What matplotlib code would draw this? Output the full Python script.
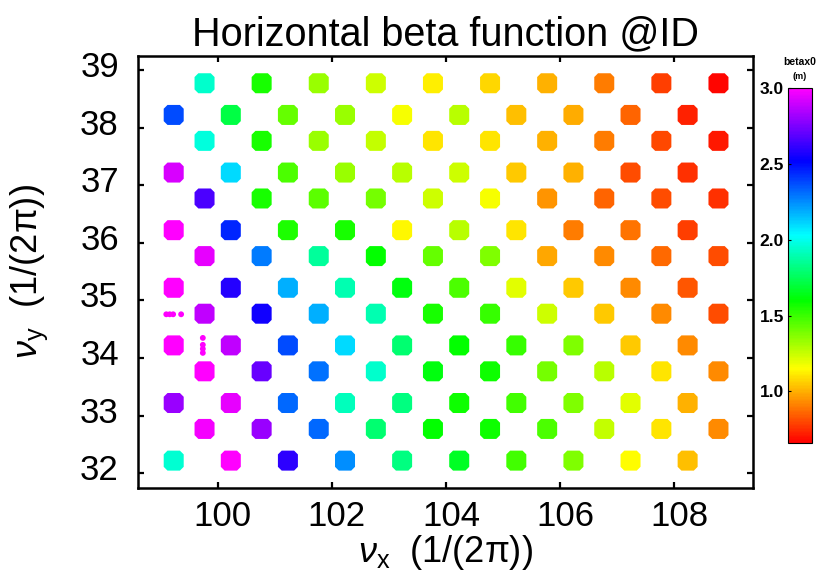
import numpy as np
import matplotlib
matplotlib.use("Agg")
import matplotlib.pyplot as plt
from matplotlib.path import Path
from matplotlib.colors import LinearSegmentedColormap
from matplotlib.transforms import ScaledTranslation

# ---------------- data ----------------
# grid tunes: "A" rows (nuy = m+0.22) use nux = n+0.23 ; "B" rows (nuy = m+0.77) use nux = n+0.77
nux_a = [99.23, 100.23, 101.23, 102.23, 103.23, 104.23, 105.23, 106.23, 107.23, 108.23]
nux_b = [99.77, 100.77, 101.77, 102.77, 103.77, 104.77, 105.77, 106.77, 107.77, 108.77]
nuy_rows = [38.77, 38.22, 37.77, 37.22, 36.77, 36.22, 35.77,
            35.22, 34.77, 34.22, 33.77, 33.22, 32.77, 32.22]
row_kind = ["b", "a", "b", "a", "b", "a", "b", "a", "b", "a", "b", "a", "b", "a"]

# horizontal beta function at ID (m), one row per nuy value (top to bottom)
betax = [
    [1.94, 1.56, 1.33, 1.24, 1.12, 1.08, 1.00, 0.90, 0.78, 0.67],
    [2.37, 1.72, 1.42, 1.33, 1.17, 1.28, 1.03, 0.99, 0.86, 0.73],
    [1.97, 1.56, 1.33, 1.26, 1.10, 1.10, 1.00, 0.90, 0.80, 0.71],
    [2.92, 2.10, 1.47, 1.33, 1.28, 1.24, 1.05, 1.00, 0.81, 0.76],
    [2.66, 1.56, 1.44, 1.40, 1.24, 1.17, 0.95, 0.86, 0.81, 0.76],
    [3.00, 2.45, 1.55, 1.56, 1.14, 1.28, 1.10, 0.90, 0.88, 0.78],
    [2.95, 2.28, 1.86, 1.60, 1.42, 1.38, 0.98, 0.93, 0.87, 0.81],
    [3.00, 2.58, 2.18, 1.90, 1.62, 1.47, 1.20, 1.05, 0.93, 0.83],
    [2.88, 2.55, 2.18, 1.90, 1.56, 1.51, 1.24, 1.05, 0.93, 0.81],
    [3.00, 2.88, 2.37, 2.10, 1.79, 1.60, 1.51, 1.38, 1.05, 0.93],
    [3.00, 2.71, 2.30, 1.94, 1.62, 1.58, 1.40, 1.28, 1.10, 0.93],
    [2.80, 2.95, 2.32, 1.92, 1.82, 1.58, 1.49, 1.38, 1.20, 1.00],
    [2.98, 2.80, 2.32, 1.79, 1.60, 1.58, 1.47, 1.26, 1.10, 0.93],
    [1.95, 3.00, 2.60, 2.25, 1.82, 1.66, 1.49, 1.38, 1.15, 1.03],
]

# isolated surviving points of two broken patches
frag_nux = [99.10, 99.16, 99.22, 99.36, 99.74, 99.74, 99.74, 99.74]
frag_nuy = [34.76, 34.76, 34.76, 34.76, 34.35, 34.23, 34.16, 34.09]
frag_betax = [3.0, 3.0, 3.0, 3.0, 3.0, 3.0, 3.0, 3.0]

cbar_ticks = [1.0, 1.5, 2.0, 2.5, 3.0]
x_ticks = [100, 102, 104, 106, 108]
y_ticks = [32, 33, 34, 35, 36, 37, 38, 39]

# ---------------- style ----------------
plt.rcParams["font.family"] = ["Liberation Sans", "DejaVu Sans"]
plt.rcParams["mathtext.fontset"] = "custom"
plt.rcParams["mathtext.rm"] = "Liberation Sans"
plt.rcParams["mathtext.it"] = "Liberation Sans:italic"
plt.rcParams["mathtext.bf"] = "Liberation Sans:bold"

vmin, vmax = 0.66, 3.0
def pos(v):
    return (v - vmin) / (vmax - vmin)
cmap = LinearSegmentedColormap.from_list(
    "betacmap",
    [(0.0, (1, 0, 0)), (pos(1.15), (1, 1, 0)), (pos(1.6), (0, 1, 0)),
     (pos(2.03), (0, 1, 1)), (pos(2.52), (0, 0, 1)), (1.0, (1, 0, 1))])

# octagon-like marker: square with cut corners
c = 0.31
octo = Path([(-0.5, -c), (-0.5, c), (-c, 0.5), (c, 0.5), (0.5, c),
             (0.5, -c), (c, -0.5), (-c, -0.5), (-0.5, -c)], closed=True)

fig = plt.figure(figsize=(8.24, 5.78), dpi=100)
ax = fig.add_axes([138.3 / 824, 1 - 487.7 / 578, 615 / 824, 431.7 / 578])

xs, ys, vs = [], [], []
for yv, kind, row in zip(nuy_rows, row_kind, betax):
    xrow = nux_a if kind == "a" else nux_b
    for xv, bv in zip(xrow, row):
        xs.append(xv); ys.append(yv); vs.append(bv)

sc = ax.scatter(xs, ys, c=vs, cmap=cmap, vmin=vmin, vmax=vmax,
                marker=octo, s=14.4 ** 2, linewidths=0)
ax.scatter(frag_nux, frag_nuy, c=frag_betax, cmap=cmap, vmin=vmin, vmax=vmax,
           marker="o", s=4.2 ** 2, linewidths=0)

ax.set_xlim(98.61, 109.38)
ax.set_ylim(31.75, 39.243)
ax.set_xticks(x_ticks)
ax.set_yticks(y_ticks)
ax.set_xticklabels([str(t) for t in x_ticks])
ax.set_yticklabels([str(t) for t in y_ticks])
ax.tick_params(direction="in", length=4, width=1.6, top=True, right=True,
               labelsize=25, pad=9, colors="black")
ax.tick_params(axis="y", pad=14)
for sp in ax.spines.values():
    sp.set_linewidth(1.8)

# IDL-style label placement: y labels sit a little above their ticks,
# x labels a little to the right
for lab in ax.get_yticklabels():
    lab.set_transform(lab.get_transform() +
                      ScaledTranslation(0, 6 / 100, fig.dpi_scale_trans))
for lab in ax.get_xticklabels():
    lab.set_transform(lab.get_transform() +
                      ScaledTranslation(5 / 100, 0, fig.dpi_scale_trans))

ax.set_title("Horizontal beta function @ID", fontsize=28.5, pad=8)
ax.set_xlabel(r"$\nu_{\mathrm{x}}$  (1/(2$\mathrm{\pi}$))", fontsize=26, labelpad=0)
ax.set_ylabel(r"$\nu_{\mathrm{y}}$  (1/(2$\mathrm{\pi}$))", fontsize=26, labelpad=22)

# colorbar
cax = fig.add_axes([788 / 824, 1 - 443 / 578, 24 / 824, 355 / 578])
cb = fig.colorbar(sc, cax=cax, ticks=cbar_ticks)
cb.outline.set_linewidth(0.8)
cax.yaxis.set_ticks_position("left")
cax.yaxis.set_label_position("left")
cax.tick_params(direction="in", length=2, width=0.8, labelsize=12.5, pad=3)
cax.set_yticklabels(["%.1f" % t for t in cbar_ticks], fontweight="bold")
fig.text(800 / 824, 1 - 62 / 578, "betax0", ha="center", va="center",
         fontsize=7.5, fontweight="bold")
fig.text(800 / 824, 1 - 77 / 578, "(m)", ha="center", va="center",
         fontsize=6.5, fontweight="bold")

fig.savefig("out.png", dpi=100)
